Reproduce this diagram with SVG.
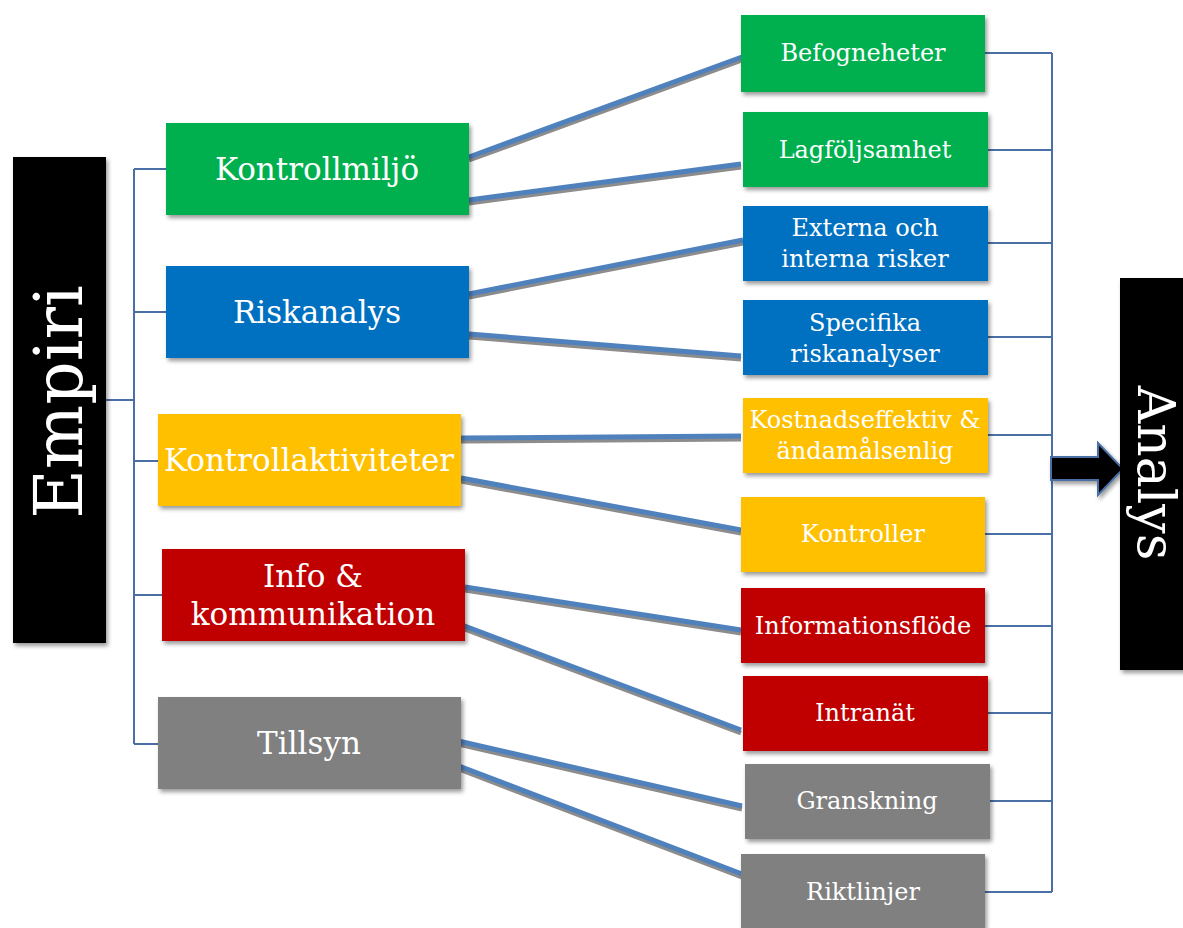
<svg xmlns="http://www.w3.org/2000/svg" width="1183" height="928" viewBox="0 0 1183 928">
<style>
.t{font-family:"DejaVu Serif","Liberation Serif",serif;fill:#fff;text-anchor:middle}
.l1{font-size:31px}
.l2{font-size:24px}
.thin{stroke:#4a6fa5;stroke-width:2;fill:none}
.thick{stroke:#4f81bd;stroke-width:5;fill:none}
.sh{stroke:#8c8c8c;stroke-width:5;fill:none}
.g{fill:#00b050}.b{fill:#0070c0}.y{fill:#ffc000}.r{fill:#c00000}.gr{fill:#808080}.k{fill:#000}
</style>
<defs>
<filter id="ds" x="-10%" y="-10%" width="130%" height="130%">
<feGaussianBlur in="SourceAlpha" stdDeviation="2"/>
<feOffset dx="2" dy="3" result="o"/>
<feComponentTransfer><feFuncA type="linear" slope="0.4"/></feComponentTransfer>
<feMerge><feMergeNode/><feMergeNode in="SourceGraphic"/></feMerge>
</filter>
</defs>
<rect width="1183" height="928" fill="#fff"/>
<g id="connectors">
<path class="thin" d="M106 400H134M134 169V744M134 169H166M134 312H166M134 461H158M134 595H162M134 744H158"/>
<path class="thin" d="M1052 53V892M985 53H1052M988 150H1052M988 243H1052M988 337H1052M988 435H1052M985 534H1052M985 626H1052M988 713H1052M990 801H1052M985 892H1052"/>
<g transform="translate(0,3)">
<path class="sh" d="M469 157L742 57M469 200L741 164M469 294L743 240M469 334L741 356M461 438L741 436M461 478L741 530M465 587L741 630M462 625L741 730M454 740L742 806M459 766L742 874"/>
</g>
<path class="thick" d="M469 157L742 57M469 200L741 164M469 294L743 240M469 334L741 356M461 438L741 436M461 478L741 530M465 587L741 630M462 625L741 730M454 740L742 806M459 766L742 874"/>
<path d="M1051 457H1098V443L1123 469L1098 495V480H1051Z" fill="#000" stroke="#4a6fa5" stroke-width="2" filter="url(#ds)"/>
</g>
<g id="empiri"><rect class="k" x="13" y="157" width="93" height="486" filter="url(#ds)"/><text class="t" font-size="68" transform="translate(82,402) rotate(-90)">Empiri</text></g>
<g id="analys"><rect class="k" x="1120" y="278" width="70" height="392" filter="url(#ds)"/><text class="t" font-size="52" transform="translate(1138,473) rotate(90)">Analys</text></g>
<g id="kontrollmiljo"><rect class="g" x="166" y="123" width="303" height="92" filter="url(#ds)"/><text class="t l1" x="317" y="180">Kontrollmiljö</text></g>
<g id="riskanalys"><rect class="b" x="166" y="266" width="303" height="92" filter="url(#ds)"/><text class="t l1" x="317" y="323">Riskanalys</text></g>
<g id="kontrollaktiviteter"><rect class="y" x="158" y="414" width="303" height="92" filter="url(#ds)"/><text class="t l1" x="309" y="471">Kontrollaktiviteter</text></g>
<g id="info"><rect class="r" x="162" y="549" width="303" height="92" filter="url(#ds)"/><text class="t l1" x="313" y="587">Info &amp;</text><text class="t l1" x="313" y="625">kommunikation</text></g>
<g id="tillsyn"><rect class="gr" x="158" y="697" width="303" height="92" filter="url(#ds)"/><text class="t l1" x="309" y="754">Tillsyn</text></g>
<g id="befogneheter"><rect class="g" x="741" y="15" width="244" height="77" filter="url(#ds)"/><text class="t l2" x="863" y="61">Befogneheter</text></g>
<g id="lagfoljsamhet"><rect class="g" x="743" y="112" width="245" height="75" filter="url(#ds)"/><text class="t l2" x="865" y="158">Lagföljsamhet</text></g>
<g id="externa"><rect class="b" x="743" y="206" width="245" height="75" filter="url(#ds)"/><text class="t l2" x="865" y="236">Externa och</text><text class="t l2" x="865" y="267">interna risker</text></g>
<g id="specifika"><rect class="b" x="743" y="300" width="245" height="75" filter="url(#ds)"/><text class="t l2" x="865" y="331">Specifika</text><text class="t l2" x="865" y="362">riskanalyser</text></g>
<g id="kostnads"><rect class="y" x="743" y="398" width="245" height="75" filter="url(#ds)"/><text class="t l2" x="865" y="428">Kostnadseffektiv &amp;</text><text class="t l2" x="865" y="459">ändamålsenlig</text></g>
<g id="kontroller"><rect class="y" x="741" y="497" width="244" height="75" filter="url(#ds)"/><text class="t l2" x="863" y="542">Kontroller</text></g>
<g id="informationsflode"><rect class="r" x="741" y="588" width="244" height="75" filter="url(#ds)"/><text class="t l2" x="863" y="634">Informationsflöde</text></g>
<g id="intranat"><rect class="r" x="743" y="676" width="245" height="75" filter="url(#ds)"/><text class="t l2" x="865" y="721">Intranät</text></g>
<g id="granskning"><rect class="gr" x="745" y="764" width="245" height="75" filter="url(#ds)"/><text class="t l2" x="867" y="809">Granskning</text></g>
<g id="riktlinjer"><rect class="gr" x="741" y="854" width="244" height="74" filter="url(#ds)"/><text class="t l2" x="863" y="900">Riktlinjer</text></g>
</svg>
